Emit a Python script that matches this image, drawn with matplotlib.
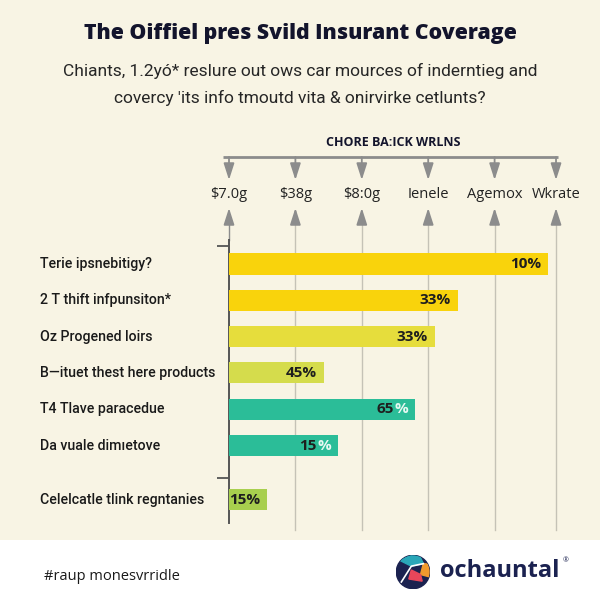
import matplotlib
matplotlib.use("Agg")
import matplotlib.pyplot as plt
import matplotlib.transforms as mtransforms
from matplotlib.patches import Rectangle, Circle, Polygon

# ---------------- data ----------------
title = "The Oiffiel pres Svild Insurant Coverage"
subtitle = ["Chiants, 1.2yó* reslure out ows car mources of inderntieg and",
            "covercy 'its info tmoutd vita \u0026 onirvirke cetlunts?"]
header_title = "CHORE BA:ICK WRLNS"
header_labels = ["$7.0g", "$38g", "$8:0g", "Ienele", "Agemox", "Wkrate"]
header_positions = [0, 20, 40, 60, 80, 98.5]

categories = ["Terie ipsnebitigy?", "2 T thift infpunsiton*", "Oz Progened loirs",
              "B\u2014ituet thest here products", "T4 Tlave paracedue",
              "Da vuale dimıetove", "Celelcatle tlink regntanies"]
values = [96.1, 69.0, 62.0, 28.6, 56.0, 32.8, 11.4]
value_numbers = ["10", "33", "33", "45", "65", "15", "15"]
positions = [0, 1, 2, 3, 4, 5, 6.5]
colors = ["#f9d30c", "#f9d30c", "#e6dd3c", "#d5dc4c", "#2bbd98", "#2bbd98", "#a8cf4e"]
light_percent = [False, False, False, False, True, True, False]

footer_text = "#raup monesvrridle"
brand = "ochauntal"

# ---------------- style ----------------
BG = "#f8f4e4"
NAVY = "#13142c"
GRAY = "#8c8c8c"
GRID = "#c5c2b6"
DARK = "#1e1e1e"
plt.rcParams['font.family'] = ['Open Sans', 'DejaVu Sans']

fig = plt.figure(figsize=(6, 6), dpi=100)
fig.patch.set_facecolor(BG)

def fy(px):
    return 1 - px / 600.0

def fx(px):
    return px / 600.0

# footer white band
fig.patches.append(Rectangle((0, 0), 1, fy(540), transform=fig.transFigure,
                             facecolor="white", edgecolor="none", zorder=-5))

# titles
fig.text(0.5, fy(33), title, ha="center", va="center", fontsize=15.3,
         fontweight=800, color=NAVY)
for i, line in enumerate(subtitle):
    fig.text(0.5, fy(71 + 27 * i), line, ha="center", va="center", fontsize=12.5,
             color="#262626", family=["Roboto", "DejaVu Sans"])

# main axes
ax = fig.add_axes([fx(229), fy(523), fx(332), (523 - 240) / 600.0])
ax.set_facecolor("none")
ax.set_xlim(0, 100)
ax.set_ylim((523 - 264) / 36.3, (240 - 264) / 36.3)

ax.barh(positions, values, height=0.58, color=colors, zorder=3)

for sp in ["top", "right", "bottom"]:
    ax.spines[sp].set_visible(False)
ax.spines["left"].set_color("#555555")
ax.spines["left"].set_linewidth(1.4)
ax.set_xticks([])
ax.set_yticks([-0.5, 5.9])
ax.set_yticklabels([])
ax.tick_params(axis="y", length=9, width=1.3, color="#555555")

# category labels
tr_lab = mtransforms.blended_transform_factory(fig.transFigure, ax.transData)
for p, c in zip(positions, categories):
    ax.text(fx(40), p, c, transform=tr_lab, ha="left", va="center",
            fontsize=10.2, fontweight="medium", color="#1a1a1a",
            family=["Roboto", "DejaVu Sans"])

# header / grid lines
tr = mtransforms.blended_transform_factory(ax.transData, fig.transFigure)
ax.plot([-1.8, 99.1], [fy(157), fy(157)], transform=tr, color=GRAY, lw=2,
        clip_on=False, solid_capstyle="butt")
ax.text(49.5, fy(143), header_title, transform=tr, ha="center", va="center",
        fontsize=9, fontweight="bold", color=NAVY)
for x, lab in zip(header_positions, header_labels):
    ax.annotate("", xy=(x, fy(180)), xytext=(x, fy(157)), xycoords=tr, textcoords=tr,
                arrowprops=dict(arrowstyle="-|>,head_length=1.0,head_width=0.32",
                                color=GRAY, lw=1.3, shrinkA=0, shrinkB=0))
    ax.text(x, fy(195), lab, transform=tr, ha="center", va="center",
            fontsize=10.5, color="#222222")
    ax.annotate("", xy=(x, fy(208)), xytext=(x, fy(224)), xycoords=tr, textcoords=tr,
                arrowprops=dict(arrowstyle="-|>,head_length=1.0,head_width=0.32",
                                color=GRAY, lw=1.3, shrinkA=0, shrinkB=0))
    bottom = 240 if x == 0 else 530
    ax.plot([x, x], [fy(223), fy(bottom)], transform=tr, color=GRID if x else GRAY,
            lw=1.0, clip_on=False, zorder=1)

# value labels
fig.canvas.draw()
renderer = fig.canvas.get_renderer()
for p, v, num, light in zip(positions, values, value_numbers, light_percent):
    if not light:
        ax.annotate(num + "%", xy=(v, p), xytext=(-5, 0), textcoords="offset points",
                    ha="right", va="center", fontsize=11, fontweight="bold",
                    color=DARK, zorder=4)
        continue
    t_pct = ax.annotate("%", xy=(v, p), xytext=(-5, 0), textcoords="offset points",
                        ha="right", va="center", fontsize=11, fontweight="bold",
                        color="#e8f8f2", zorder=4)
    w = t_pct.get_window_extent(renderer).width * 72.0 / fig.dpi
    ax.annotate(num, xy=(v, p), xytext=(-5 - w - 0.3, 0), textcoords="offset points",
                ha="right", va="center", fontsize=11, fontweight="bold",
                color=DARK, zorder=4)

# footer
fig.text(fx(44), fy(576), footer_text, ha="left", va="center", fontsize=10.5,
         color="#1a1a1a")

# logo
lx, ly, r = 413, 572, 17
logo_ax = fig.add_axes([fx(lx - r), fy(ly + r), fx(2 * r), 2 * r / 600.0])
logo_ax.set_xlim(-1.02, 1.02)
logo_ax.set_ylim(-1.02, 1.02)
logo_ax.axis("off")
circ = Circle((0, 0), 1, color="#1b2250")
logo_ax.add_patch(circ)
for pts, col in [
    ([(-0.8, 0.7), (0.3, 1.2), (0.62, 0.5), (-0.1, 0.35)], "#2aa7b8"),
    ([(0.62, 0.5), (1.2, 0.45), (1.2, -0.35), (0.45, -0.15)], "#f29a2e"),
    ([(-0.1, 0.12), (0.45, -0.15), (0.55, -0.55), (-0.25, -0.42)], "#e8465a"),
]:
    pg = Polygon(pts, closed=True, color=col)
    logo_ax.add_patch(pg)
    pg.set_clip_path(circ)
ln, = logo_ax.plot([-0.7, -0.1, 0.62], [-0.6, 0.35, 0.5], color="white", lw=1.2)
ln.set_clip_path(circ)
fig.text(fx(440), fy(571), brand, ha="left", va="center", fontsize=17,
         fontweight="bold", color="#1b2250")
fig.text(fx(563), fy(561), "®", ha="left", va="center", fontsize=5, color="#1b2250")

fig.savefig("out.png", dpi=100, facecolor=fig.get_facecolor())
